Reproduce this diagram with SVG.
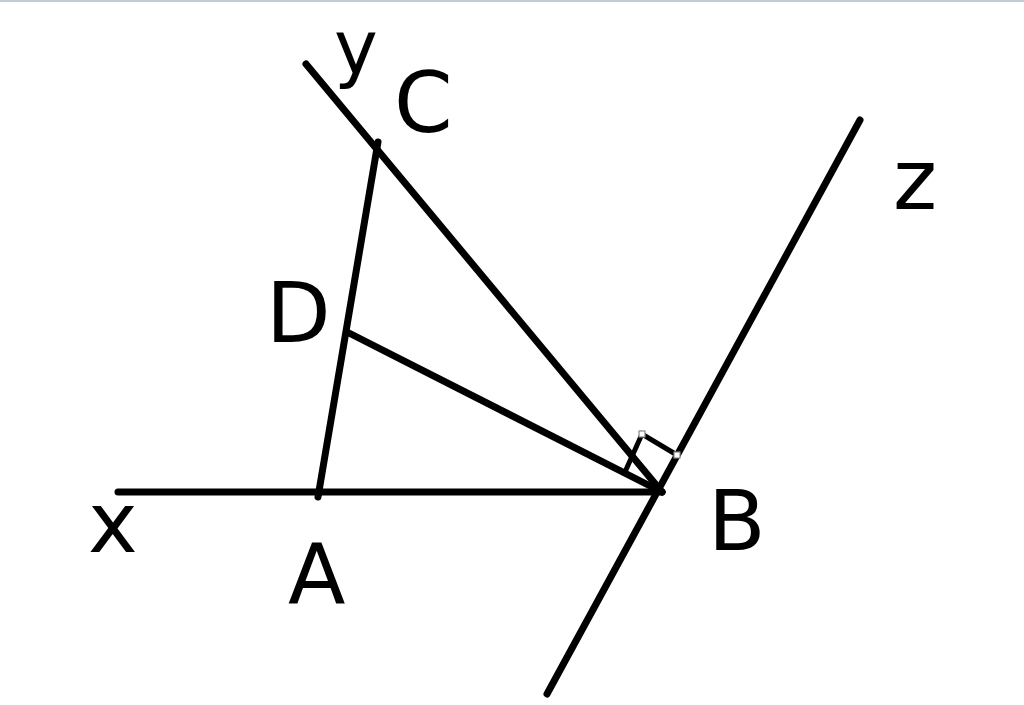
<svg xmlns="http://www.w3.org/2000/svg" width="1024" height="705" viewBox="0 0 1024 705">
<style>
.ln{stroke:#000;stroke-width:7;stroke-linecap:round;fill:none}
.lb{font-family:"DejaVu Sans",sans-serif;font-size:84px;fill:#000}
.h{fill:#fff;stroke:#888;stroke-width:1.2}
</style>
<rect width="1024" height="705" fill="#fff"/>
<rect width="1024" height="2" fill="#c3cad8"/>
<g id="connectors">
<line class="ln" x1="118" y1="492" x2="662" y2="492"/>
<line class="ln" x1="306" y1="64" x2="662" y2="492"/>
<line class="ln" x1="860" y1="120" x2="547" y2="694"/>
<line class="ln" x1="378" y1="142" x2="318" y2="497"/>
<line class="ln" x1="347" y1="332" x2="662" y2="492"/>
<polyline fill="none" stroke="#000" stroke-width="5" points="625,472 642,434 677,455"/>
<rect class="h" x="639" y="431" width="6" height="6"/>
<rect class="h" x="674" y="452" width="6" height="6"/>
</g>
<g id="node-y"><text class="lb" x="334" y="73" style="font-size:74px">y</text></g>
<g id="node-C"><text class="lb" x="394" y="132">C</text></g>
<g id="node-z"><text class="lb" x="893" y="209">z</text></g>
<g id="node-D"><text class="lb" x="266" y="342">D</text></g>
<g id="node-x"><text class="lb" x="88" y="552">x</text></g>
<g id="node-A"><text class="lb" x="288" y="604">A</text></g>
<g id="node-B"><text class="lb" x="708" y="550">B</text></g>
</svg>
